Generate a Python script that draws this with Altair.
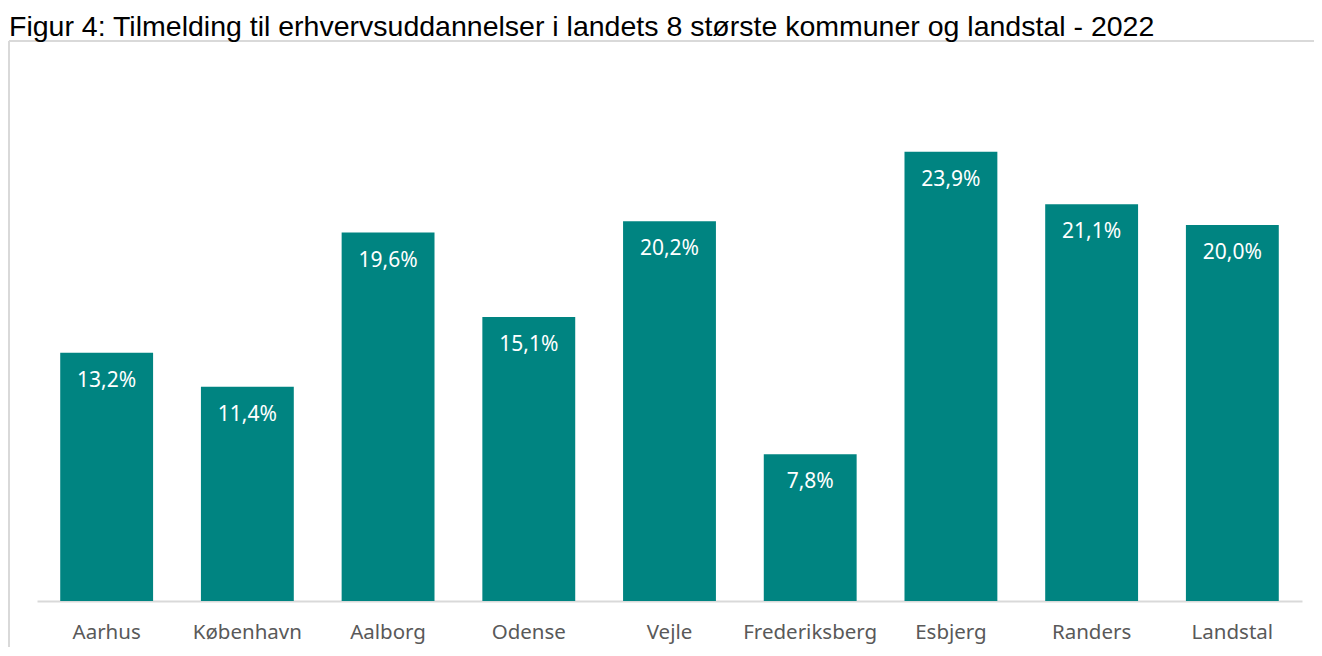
import altair as alt
import pandas as pd

categories = ["Aarhus", "København", "Aalborg", "Odense", "Vejle",
              "Frederiksberg", "Esbjerg", "Randers", "Landstal"]
values = [13.2, 11.4, 19.6, 15.1, 20.2, 7.8, 23.9, 21.1, 20.0]
labels = [f"{v:.1f}".replace(".", ",") + "%" for v in values]

title_text = "Figur 4: Tilmelding til erhvervsuddannelser i landets 8 største kommuner og landstal - 2022"

df = pd.DataFrame({"kommune": categories, "andel": values, "label": labels})

W, H = 1265, 564
TEAL = "#008481"

x = alt.X("kommune:N", sort=categories,
          scale=alt.Scale(paddingInner=0.34, paddingOuter=0.165),
          axis=alt.Axis(title=None, ticks=False, labelAngle=0,
                        labelFont="Noto Sans", labelFontSize=20.5,
                        labelColor="#595959", labelPadding=21,
                        domainColor="#d9d9d9", domainWidth=2, grid=False))
y = alt.Y("andel:Q", scale=alt.Scale(domain=[0, 30]), axis=None)

bars = alt.Chart(df).mark_bar(color=TEAL).encode(x=x, y=y)

text = alt.Chart(df).mark_text(
    color="white", font="Noto Sans", fontSize=21, baseline="middle", dy=28
).encode(x=alt.X("kommune:N", sort=categories), y=y, text="label:N")

frame_data = alt.Data(values=[{"a": 1}])
top_line = alt.Chart(frame_data).mark_rule(color="#d9d9d9", strokeWidth=2).encode(
    x=alt.value(-28), x2=alt.value(W + 20), y=alt.value(4))
left_line = alt.Chart(frame_data).mark_rule(color="#d9d9d9", strokeWidth=2).encode(
    x=alt.value(-28), y=alt.value(4), y2=alt.value(H + 60))

chart = alt.layer(top_line, left_line, bars, text).properties(
    width=W, height=H,
    title=alt.TitleParams(title_text, anchor="start", dx=1, dy=16, offset=12,
                          font="Liberation Sans", fontSize=28.5,
                          fontWeight="normal", color="#000000"),
    autosize=alt.AutoSizeParams(type="none"),
    padding={"left": 29, "top": 29, "right": 12, "bottom": 46},
).configure_view(stroke=None)

chart.save("out.html", embed_options={"renderer": "svg", "actions": False})
